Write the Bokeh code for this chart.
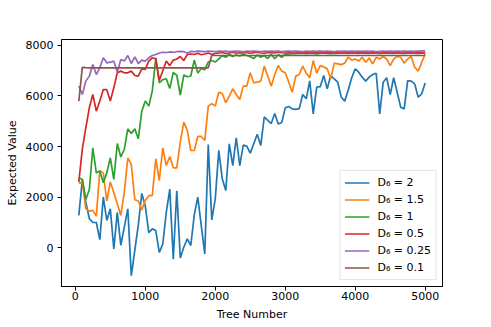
from bokeh.plotting import figure
from bokeh.models import Range1d
from bokeh.embed import file_html
from bokeh.resources import INLINE

trees = list(range(50, 5001, 50))

d6_2 = [1280, 2690, 1800, 1150, 1000, 1000, 320, 2000, 1080, 1540,
        -40, 1400, 100, 820, 1540, -1100, -100, 900, 2150, 1650,
        600, 750, 680, -180, 150, 1400, 2320, -450, 2250, -400,
        20, 350, 90, 1300, 2000, 880, -240, 4080, 1100, 1935,
        3850, 2726, 2260, 4110, 3250, 4350, 3250, 4060, 4020, 3740,
        4110, 4490, 4040, 5170, 5040, 4910, 5310, 4890, 4950, 5530,
        5585, 5490, 5470, 5500, 6060, 5890, 6600, 5290, 6350, 6370,
        6810, 6280, 6810, 6680, 6545, 5960, 5790, 6240, 6720, 7075,
        6940, 6745, 6590, 6745, 6850, 6900, 5295, 6545, 6720, 6060,
        6720, 6150, 5560, 5490, 6610, 6590, 6480, 5950, 6085, 6510]

d6_15 = [2550, 2600, 1540, 1450, 1480, 1250, 3050, 2950, 1850, 2600,
         2180, 1740, 1280, 2200, 3550, 3300, 1900, 1850, 1500, 1870,
         2060, 2065, 3520, 2660, 3950, 3250, 3610, 3160, 3160, 4175,
         4966, 4640, 3846, 3846, 4400, 4400, 4240, 5600, 5700, 5600,
         6150, 6100, 5730, 5995, 6284, 6060, 5862, 6390, 6390, 6917,
         6520, 6547, 6587, 7180, 6785, 6390, 6850, 7205, 6983, 6917,
         6547, 6150, 6785, 6850, 7180, 6900, 6720, 7400, 6900, 7200,
         7150, 7075, 6680, 7300, 7270, 7240, 7300, 7530, 7420, 7460,
         7380, 7530, 7330, 7500, 7270, 7530, 7460, 7560, 7460, 7200,
         7460, 7560, 7530, 7300, 7460, 7560, 7140, 6980, 7330, 7660]

d6_1 = [2765, 2700, 1909, 2304, 3950, 2962, 3030, 2568, 2962, 3555,
        2700, 4120, 3590, 3885, 4700, 4515, 4700, 4308, 5400, 5800,
        5600, 6200, 7510, 6520, 6650, 6680, 6300, 6930, 6820, 6040,
        6830, 6760, 6790, 7420, 6910, 7090, 7040, 7340, 7400, 7340,
        7470, 7600, 7530, 7650, 7560, 7620, 7580, 7650, 7600, 7550,
        7480, 7620, 7530, 7600, 7480, 7650, 7470, 7640, 7530, 7660,
        7650, 7680, 7670, 7690, 7680, 7670, 7690, 7680, 7660, 7690,
        7700, 7680, 7670, 7690, 7680, 7700, 7690, 7680, 7700, 7690,
        7680, 7700, 7690, 7680, 7700, 7690, 7680, 7690, 7700, 7690,
        7680, 7700, 7690, 7680, 7690, 7700, 7690, 7680, 7690, 7700]

d6_05 = [2600, 3900, 4742, 5533, 6060, 5400, 5800, 6257, 6250, 5800,
         6324, 6917, 6983, 6917, 6917, 6983, 6811, 6785, 7075, 7050,
         7378, 7510, 7470, 6620, 7000, 7380, 7200, 7420, 7460, 7560,
         7400, 7640, 7660, 7640, 7690, 7630, 7660, 7700, 7640, 7680,
         7700, 7720, 7680, 7700, 7730, 7690, 7710, 7700, 7720, 7690,
         7710, 7730, 7700, 7690, 7720, 7710, 7700, 7730, 7710, 7700,
         7720, 7700, 7710, 7730, 7700, 7720, 7710, 7700, 7720, 7710,
         7700, 7720, 7710, 7700, 7730, 7710, 7700, 7720, 7710, 7700,
         7720, 7710, 7700, 7720, 7710, 7730, 7700, 7710, 7720, 7700,
         7710, 7720, 7700, 7710, 7730, 7710, 7700, 7720, 7710, 7720]

d6_025 = [6390, 6060, 6588, 6785, 7244, 6850, 7115, 7510, 7310, 7336,
          7380, 6940, 7440, 7380, 7600, 7284, 7550, 7284, 7415, 7380,
          7510, 7600, 7640, 7700, 7730, 7720, 7740, 7730, 7750, 7760,
          7750, 7700, 7760, 7750, 7770, 7760, 7750, 7770, 7760, 7750,
          7770, 7760, 7770, 7750, 7760, 7770, 7760, 7750, 7770, 7760,
          7770, 7760, 7750, 7770, 7760, 7770, 7760, 7770, 7750, 7760,
          7770, 7760, 7770, 7760, 7750, 7770, 7760, 7770, 7760, 7770,
          7760, 7770, 7760, 7750, 7770, 7760, 7770, 7760, 7770, 7760,
          7770, 7760, 7770, 7760, 7770, 7750, 7760, 7770, 7760, 7770,
          7760, 7770, 7760, 7770, 7760, 7770, 7760, 7770, 7780, 7780]

d6_01 = [5800, 7130, 7120, 7115, 7115, 7115, 7115, 7115, 7115, 7115,
         7115, 7115, 7115, 7115, 7115, 7115, 7115, 7115, 7115, 7115,
         7115, 7115, 7115, 7115, 7115, 7115, 7115, 7115, 7115, 7115,
         7115, 7115, 7115, 7115, 7115, 7115, 7115, 7115, 7600, 7600,
         7600, 7600, 7600, 7600, 7600, 7600, 7600, 7600, 7600, 7600,
         7600, 7600, 7600, 7600, 7600, 7600, 7600, 7600, 7600, 7600,
         7600, 7600, 7600, 7600, 7600, 7600, 7600, 7600, 7600, 7600,
         7600, 7600, 7600, 7600, 7600, 7600, 7600, 7600, 7600, 7600,
         7600, 7600, 7600, 7600, 7600, 7600, 7600, 7600, 7600, 7600,
         7600, 7600, 7600, 7600, 7600, 7600, 7600, 7600, 7600, 7600]

series = [d6_2, d6_15, d6_1, d6_05, d6_025, d6_01]
labels = ["D\u2086 = 2", "D\u2086 = 1.5", "D\u2086 = 1", "D\u2086 = 0.5",
          "D\u2086 = 0.25", "D\u2086 = 0.1"]
colors = ["#1f77b4", "#ff7f0e", "#2ca02c", "#d62728", "#9467bd", "#8c564b"]
x_ticks = [0, 1000, 2000, 3000, 4000, 5000]
y_ticks = [0, 2000, 4000, 6000, 8000]

FONT = "DejaVu Sans"

p = figure(width=491, height=327, output_backend="svg", toolbar_location=None,
           x_range=Range1d(-197.5, 5247.5), y_range=Range1d(-1530, 8233),
           min_border_left=61, min_border_right=49, min_border_top=39,
           min_border_bottom=41)

for ys, lab, col in zip(series, labels, colors):
    p.line(trees, ys, line_color=col, line_width=1.7, legend_label=lab)

p.grid.visible = False
p.outline_line_color = "black"
p.outline_line_alpha = 1.0
p.outline_line_width = 1
p.background_fill_color = "white"
p.border_fill_color = "white"

p.xaxis.ticker = x_ticks
p.yaxis.ticker = y_ticks
p.xaxis.axis_label = "Tree Number"
p.yaxis.axis_label = "Expected Value"
for ax in (p.xaxis, p.yaxis):
    ax.axis_line_color = "black"
    ax.major_tick_line_color = "black"
    ax.major_tick_out = 4
    ax.major_tick_in = 0
    ax.minor_tick_line_color = None
    ax.major_label_text_font = FONT
    ax.major_label_text_font_size = "11px"
    ax.major_label_text_color = "black"
    ax.axis_label_text_font = FONT
    ax.axis_label_text_font_size = "11px"
    ax.axis_label_text_font_style = "normal"
    ax.axis_label_text_color = "black"
p.xaxis.major_label_standoff = 1
p.xaxis.axis_label_standoff = 5
p.yaxis.major_label_standoff = 4
p.yaxis.axis_label_standoff = 4

lg = p.legend[0]
lg.location = "bottom_right"
lg.margin = 6
lg.padding = 4
lg.spacing = 2
lg.glyph_width = 25
lg.glyph_height = 15
lg.label_height = 15
lg.label_standoff = 8
lg.label_text_font = FONT
lg.label_text_font_size = "11px"
lg.label_text_color = "black"
lg.border_line_color = "#cccccc"
lg.border_line_width = 1
lg.background_fill_alpha = 0.8

open("out.html", "w").write(file_html(p, INLINE))
